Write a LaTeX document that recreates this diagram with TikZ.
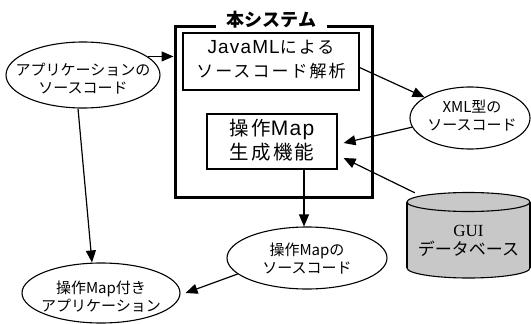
\documentclass[tikz,border=0pt]{standalone}
\usepackage{fontspec}
\setmainfont{Noto Sans CJK JP}
\newfontfamily\jpbox[LetterSpace=12]{Noto Sans CJK JP}
\newfontfamily\latbox[LetterSpace=6]{Liberation Sans}
\newfontfamily\guiserif{Liberation Serif}
\usetikzlibrary{arrows.meta,shapes.geometric}
\definecolor{dbgray}{RGB}{200,200,200}
\tikzset{
  arr/.style={line width=1.2pt,-{Triangle[length=12pt,width=10pt]}},
  oval/.style={ellipse,draw,line width=1.1pt,inner sep=0pt},
  boxnode/.style={draw,line width=1.1pt,inner sep=0pt},
  ovaltext/.style={align=center,font=\fontsize{15}{18}\selectfont,inner sep=0pt},
  boxtext/.style={align=center,inner sep=0pt},
}
\begin{document}
\begin{tikzpicture}[x=1pt,y=-1pt]
\useasboundingbox (0,0) rectangle (531,324);
% system frame
\node[draw,line width=3pt,inner sep=0pt,minimum width=197pt,minimum height=171pt] (sys) at (273.5,111.5) {};
\node[fill=white,inner xsep=11pt,inner ysep=2pt,font=\fontsize{18}{20}\selectfont\bfseries] (title) at (271.5,20) {本システム};
% inner boxes
\node[boxnode,minimum width=176pt,minimum height=57pt] (box1) at (271,61.5) {};
\node[boxtext,font=\jpbox\fontsize{17}{24}\selectfont] (box1t) at (271,60) {{\latbox\fontsize{19}{24}\selectfont JavaML}による\\ソースコード解析};
\node[boxnode,minimum width=130pt,minimum height=55pt] (box2) at (272,141.5) {};
\node[boxtext,font=\jpbox\fontsize{19.5}{24}\selectfont] (box2t) at (272,140) {操作{\latbox\fontsize{21}{24}\selectfont Map}\\生成機能};
% ellipses
\node[oval,minimum width=154pt,minimum height=66pt] (app) at (83,75) {};
\node[ovaltext] (appt) at (83,79) {アプリケーションの\\ソースコード};
\node[oval,minimum width=120pt,minimum height=62pt] (xml) at (470,118) {};
\node[ovaltext] (xmlt) at (472,116) {XML型の\\ソースコード};
\node[oval,minimum width=160pt,minimum height=62pt] (mapsrc) at (307,258) {};
\node[ovaltext] (mapsrct) at (307,259) {操作Mapの\\ソースコード};
\node[oval,minimum width=158pt,minimum height=60pt] (mapapp) at (101,293) {};
\node[ovaltext] (mapappt) at (101,297) {操作Map付き\\アプリケーション};
% database cylinder
\filldraw[fill=dbgray,line width=1.1pt] (468.5,268) ellipse[x radius=61.5,y radius=10];
\fill[dbgray] (407,202) rectangle (530,268);
\draw[line width=1.1pt] (407,202) -- (407,268) (530,202) -- (530,268);
\filldraw[fill=dbgray,line width=1.1pt] (468.5,202) ellipse[x radius=61.5,y radius=9.5];
\node[inner sep=0pt,minimum width=123pt,minimum height=85pt] (db) at (468.5,235.5) {};
\node[align=center,inner sep=0pt,font=\fontsize{17}{19}\selectfont] (dbt) at (468.5,241) {{\guiserif GUI}\\データベース};
% connectors
\draw[arr] (app.16) -- (app.16 -| sys.west);
\draw[arr] ([xshift=-5pt]app.south) -- ([xshift=-9pt]mapapp.north);
\draw[arr] ([yshift=-6pt]box1.east) -- (xml);
\draw[arr] (xml.189) -- ([xshift=6pt,yshift=-1.5pt]box2.east);
\draw[arr] ([xshift=8pt]db.north west) -- ([xshift=6pt,yshift=-16.5pt]box2.east);
\draw[arr] ([xshift=32pt]box2.south) -- ([xshift=32pt]box2.south |- mapsrc.north);
\draw[arr] (mapsrc.193) -- ([xshift=5pt]mapapp.east);
\end{tikzpicture}
\end{document}
